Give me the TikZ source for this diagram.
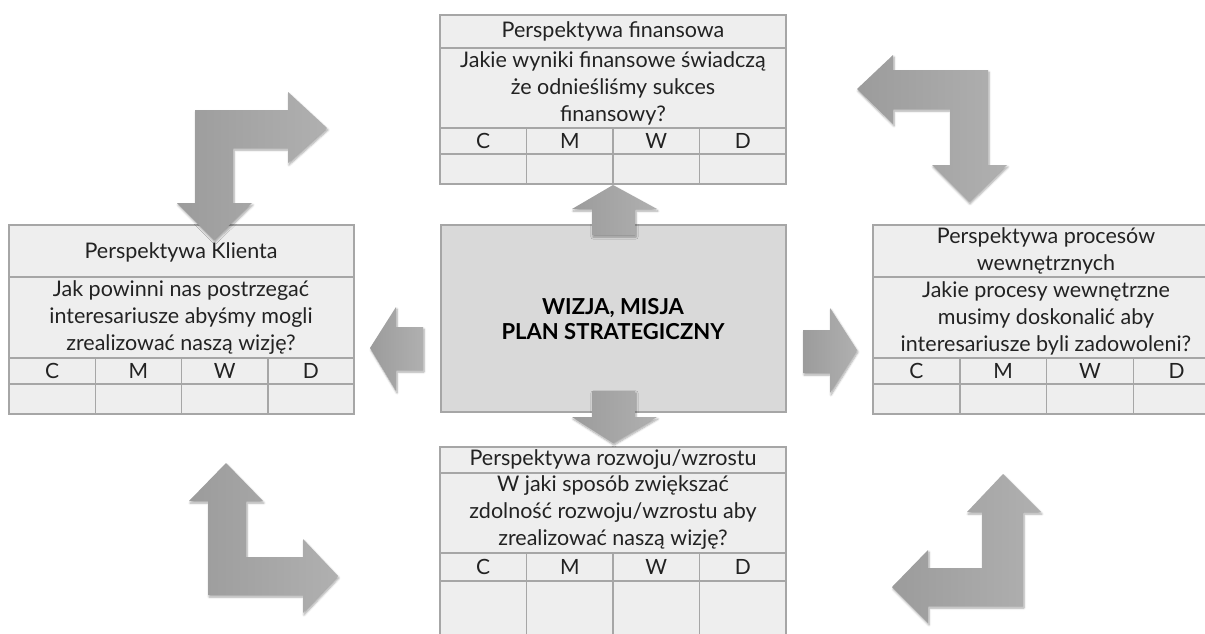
\documentclass[tikz,border=0pt]{standalone}
\usepackage{fontspec}
\setmainfont{Lato}
\usetikzlibrary{shadows.blur}
\definecolor{cellfill}{HTML}{EEEEEE}
\definecolor{corefill}{HTML}{D9D9D9}
\definecolor{rule}{HTML}{A6A6A6}
\definecolor{ink}{HTML}{222222}
% table of one perspective: name, left, right, top, title/question/letters rule, bottom
\newcommand\DrawTable[8]{%
    \draw[cell] (#2,#4) rectangle (#3,#8);
    \draw[cell] (#2,#5) -- (#3,#5) (#2,#6) -- (#3,#6) (#2,#7) -- (#3,#7);
    \pgfmathsetmacro\colw{(#3-#2)/4}
    \foreach \l [count=\i from 0] in {C,M,W,D}{
        \ifnum\i>0 \draw[cell] (#2+\i*\colw,#6) -- (#2+\i*\colw,#8);\fi
        \node[letter] (#1-\l) at ({#2+(\i+0.5)*\colw},{(#6+#7)/2}) {\l};
    }
}

\begin{document}
\begin{tikzpicture}[x=1pt,y=-1pt,
        %% looks
        cell/.style={draw=rule, line width=1.5pt},
        letter/.style={text=ink, font=\fontsize{21}{24}\selectfont, inner sep=0pt},
        caption/.style={text=ink, align=center, inner sep=0pt,
            font=\fontsize{21.5}{27}\selectfont},
        bent/.style={left color=gray!78, right color=gray!62, draw=none,
            blur shadow={shadow xshift=1pt, shadow yshift=-2pt,
                shadow blur steps=6, shadow opacity=35}}
    ]
    \useasboundingbox (0,0) rectangle (1205,633);
    \clip (0,0) rectangle (1205,633);
    %
    %% the four perspectives
    \fill[cellfill] (440,15) rectangle (786,184);
    \DrawTable{fin}{440}{786}{15}{48}{128}{154}{184}
    \fill[cellfill] (9,225) rectangle (354,414);
    \DrawTable{kli}{9}{354}{225}{277}{358}{384}{414}
    \fill[cellfill] (873,225) rectangle (1220,414);
    \DrawTable{pro}{873}{1220}{225}{277}{358}{384}{414}
    \fill[cellfill] (440,447) rectangle (786,645);
    \DrawTable{roz}{440}{786}{447}{473}{553}{581}{645}
    %
    \node[caption] (finT) at (613,31)  {Perspektywa finansowa};
    \node[caption] (finQ) at (613,88)  {Jakie wyniki finansowe świadczą\\że odnieśliśmy sukces\\finansowy?};
    \node[caption] (kliT) at (181,252) {Perspektywa Klienta};
    \node[caption] (kliQ) at (181,318) {Jak powinni nas postrzegać\\interesariusze abyśmy mogli\\zrealizować naszą wizję?};
    \node[caption] (proT) at (1046,251) {Perspektywa procesów\\wewnętrznych};
    \node[caption] (proQ) at (1046,318) {Jakie procesy wewnętrzne\\musimy doskonalić aby\\interesariusze byli zadowoleni?};
    \node[caption] (rozT) at (613,460) {Perspektywa rozwoju/wzrostu};
    \node[caption] (rozQ) at (613,513) {W jaki sposób zwiększać\\zdolność rozwoju/wzrostu aby\\zrealizować naszą wizję?};
    %
    %% vision in the middle
    \draw[cell, fill=corefill] (441,225) rectangle (786,412);
    \node[caption, text=black, font=\fontsize{22}{25}\selectfont\bfseries] (core) at (613,319)
        {WIZJA, MISJA\\PLAN STRATEGICZNY};
    %
    %% straight arrows
    \path[bent] (613,185) -- (657,209) -- (635,209) -- (635,235) -- (592,235) -- (592,209) -- (572,209) -- cycle;
    \path[bent] (613,443) -- (657,417) -- (635,417) -- (635,391) -- (592,391) -- (592,417) -- (572,417) -- cycle;
    \path[bent] (857,350) -- (830,393) -- (830,373) -- (803,373) -- (803,330) -- (830,330) -- (830,308) -- cycle;
    \path[bent] (370,348) -- (396,307) -- (396,327) -- (423,327) -- (423,370) -- (396,370) -- (396,391) -- cycle;
    %
    %% bent arrows in the corners
    \path[bent] (214,240) -- (252,203) -- (233,203) -- (233,148) -- (288,148) -- (288,163) -- (327,128)
        -- (288,92) -- (288,110) -- (195,110) -- (195,203) -- (177,203) -- cycle;
    \path[bent] (857,89) -- (893,55) -- (893,70) -- (988,70) -- (988,165) -- (1007,165) -- (969,202)
        -- (932,165) -- (950,165) -- (950,109) -- (893,109) -- (893,124) -- cycle;
    \path[bent] (226,463) -- (263,501) -- (246,501) -- (246,557) -- (303,557) -- (303,539) -- (338,576)
        -- (303,613) -- (303,595) -- (208,595) -- (208,501) -- (189,501) -- cycle;
    \path[bent] (1003,474) -- (1041,512) -- (1023,512) -- (1023,606) -- (928,606) -- (928,623) -- (892,587)
        -- (928,550) -- (928,568) -- (982,568) -- (982,512) -- (967,512) -- cycle;
\end{tikzpicture}
\end{document}
